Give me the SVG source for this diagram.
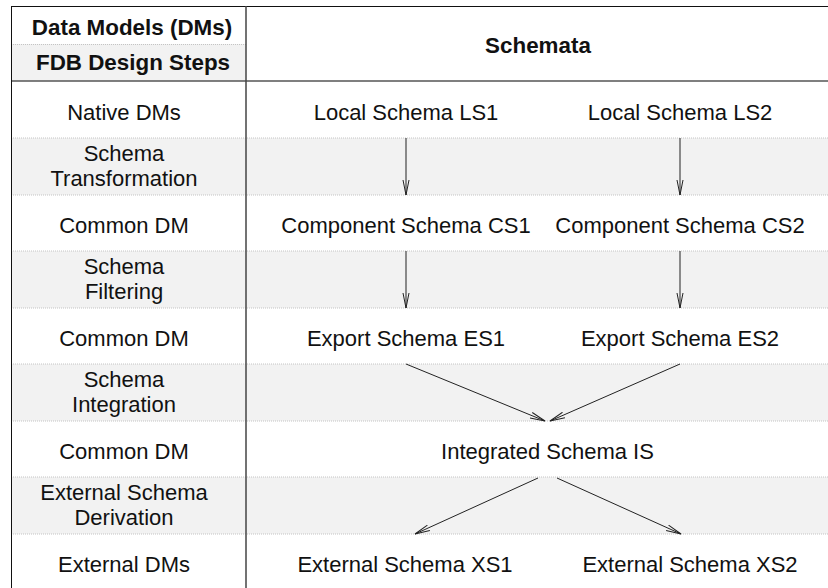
<svg xmlns="http://www.w3.org/2000/svg" width="828" height="588" viewBox="0 0 828 588">
<style>
text{font-family:"Liberation Sans",Arial,Helvetica,sans-serif;font-size:22px;fill:#111;text-anchor:middle}
.b{font-weight:bold;font-size:22.4px}
.dot{stroke:#c4c4c4;stroke-width:1;stroke-dasharray:1 1;fill:none}
.band{fill:#f2f2f2}
.arr{stroke:#222;stroke-width:1;fill:none;marker-end:url(#ah)}
</style>
<defs>
<marker id="ah" viewBox="0 0 16 8" refX="15" refY="4" markerWidth="16" markerHeight="8" markerUnits="userSpaceOnUse" orient="auto">
<path d="M0,1 L15,4 L0,7" fill="none" stroke="#222" stroke-width="1"/>
</marker>
</defs>
<rect x="0" y="0" width="828" height="588" fill="#fff"/>
<g id="grid">
<rect class="band" x="11" y="44" width="235" height="37"/>
<rect class="band" x="11" y="138" width="817" height="57"/>
<rect class="band" x="11" y="251" width="817" height="57"/>
<rect class="band" x="11" y="364" width="817" height="57"/>
<rect class="band" x="11" y="477" width="817" height="57"/>
<line class="dot" x1="11" y1="44.5" x2="246" y2="44.5"/>
<line class="dot" x1="11" y1="138" x2="828" y2="138"/>
<line class="dot" x1="11" y1="195" x2="828" y2="195"/>
<line class="dot" x1="11" y1="251" x2="828" y2="251"/>
<line class="dot" x1="11" y1="308" x2="828" y2="308"/>
<line class="dot" x1="11" y1="364" x2="828" y2="364"/>
<line class="dot" x1="11" y1="421" x2="828" y2="421"/>
<line class="dot" x1="11" y1="477" x2="828" y2="477"/>
<line class="dot" x1="11" y1="534" x2="828" y2="534"/>
<line x1="11" y1="6.5" x2="828" y2="6.5" stroke="#111" stroke-width="1"/>
<line x1="11" y1="81" x2="828" y2="81" stroke="#555" stroke-width="1.5"/>
<line x1="11.5" y1="6" x2="11.5" y2="588" stroke="#111" stroke-width="1"/>
<line x1="246" y1="6" x2="246" y2="588" stroke="#444" stroke-width="1.5"/>
</g>
<g id="header">
<text class="b" x="132" y="35">Data Models (DMs)</text>
<text class="b" x="133" y="70">FDB Design Steps</text>
<text class="b" x="538" y="53">Schemata</text>
</g>
<g id="steps">
<text x="124" y="120">Native DMs</text>
<text x="124" y="161">Schema<tspan x="124" dy="24.8">Transformation</tspan></text>
<text x="124" y="233">Common DM</text>
<text x="124" y="274">Schema<tspan x="124" dy="24.8">Filtering</tspan></text>
<text x="124" y="346">Common DM</text>
<text x="124" y="387">Schema<tspan x="124" dy="24.8">Integration</tspan></text>
<text x="124" y="459">Common DM</text>
<text x="124" y="500">External Schema<tspan x="124" dy="24.8">Derivation</tspan></text>
<text x="124" y="572">External DMs</text>
</g>
<g id="LS1"><text x="406" y="120">Local Schema LS1</text></g>
<g id="LS2"><text x="680" y="120">Local Schema LS2</text></g>
<g id="CS1"><text x="406" y="233">Component Schema CS1</text></g>
<g id="CS2"><text x="680" y="233">Component Schema CS2</text></g>
<g id="ES1"><text x="406" y="346">Export Schema ES1</text></g>
<g id="ES2"><text x="680" y="346">Export Schema ES2</text></g>
<g id="IS"><text x="547.5" y="459">Integrated Schema IS</text></g>
<g id="XS1"><text x="405" y="572">External Schema XS1</text></g>
<g id="XS2"><text x="690" y="572">External Schema XS2</text></g>
<g id="connectors">
<line class="arr" x1="406" y1="138" x2="406" y2="195"/>
<line class="arr" x1="680" y1="138" x2="680" y2="195"/>
<line class="arr" x1="406" y1="251" x2="406" y2="308"/>
<line class="arr" x1="680" y1="251" x2="680" y2="308"/>
<line class="arr" x1="406" y1="364" x2="545" y2="421"/>
<line class="arr" x1="680" y1="364" x2="550" y2="421"/>
<line class="arr" x1="538" y1="478" x2="415" y2="534"/>
<line class="arr" x1="557" y1="478" x2="681" y2="534"/>
</g>
</svg>
